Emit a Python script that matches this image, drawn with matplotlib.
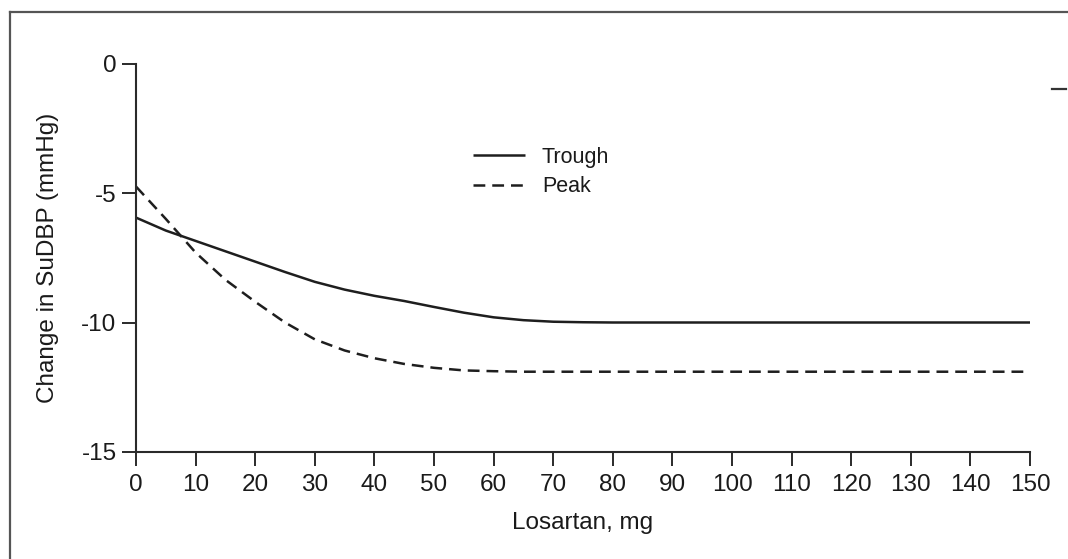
import matplotlib
matplotlib.use("Agg")
import matplotlib.pyplot as plt
from matplotlib.lines import Line2D

plt.rcParams['font.family'] = ['Liberation Sans', 'DejaVu Sans']
plt.rcParams['lines.scale_dashes'] = False

dose = [0, 5, 10, 15, 20, 25, 30, 35, 40, 45, 50, 55, 60, 65, 70, 75, 80,
        90, 100, 110, 120, 130, 140, 150]
trough = [-5.95, -6.45, -6.85, -7.25, -7.65, -8.05, -8.43, -8.73, -8.97, -9.17,
          -9.4, -9.62, -9.8, -9.91, -9.97, -9.99, -10.0,
          -10.0, -10.0, -10.0, -10.0, -10.0, -10.0, -10.0]
peak = [-4.75, -6.0, -7.3, -8.35, -9.2, -10.0, -10.65, -11.08, -11.38, -11.6,
        -11.75, -11.85, -11.88, -11.9, -11.9, -11.9, -11.9,
        -11.9, -11.9, -11.9, -11.9, -11.9, -11.9, -11.9]
xticks = list(range(0, 151, 10))
yticks = [0, -5, -10, -15]

W, H = 1068, 559
fig = plt.figure(figsize=(W / 100, H / 100), dpi=100)
ax = fig.add_axes([136 / W, 1 - 452 / H, 894 / W, 388.5 / H])

lc = '#1e1e1e'
ax.plot(dose, trough, color=lc, lw=1.8, label='Trough', solid_capstyle='butt')
ax.plot(dose, peak, color=lc, lw=1.8, linestyle=(0, (8.5, 5)), label='Peak')

ax.set_xlim(0, 150)
ax.set_ylim(-15, 0)
ax.set_xticks(xticks)
ax.set_xticklabels([str(t) for t in xticks])
ax.set_yticks(yticks)
ax.set_yticklabels([str(t) for t in yticks])
for s in ['top', 'right']:
    ax.spines[s].set_visible(False)
for s in ['left', 'bottom']:
    ax.spines[s].set_color('#2a2a2a')
    ax.spines[s].set_linewidth(1.5)
ax.tick_params(axis='both', direction='out', length=10, width=1.4,
               color='#2a2a2a', labelsize=17.5, labelcolor='#1a1a1a')
ax.tick_params(axis='y', pad=4)
ax.tick_params(axis='x', pad=6)

ax.set_xlabel('Losartan, mg', fontsize=17.5, color='#1a1a1a', labelpad=11)
ax.set_ylabel('Change in SuDBP (mmHg)', fontsize=17.5, color='#1a1a1a', labelpad=16)

leg = ax.legend(loc='upper left', bbox_to_anchor=((473 - 136) / 894, (64 - 147) / 388.5 + 1),
                frameon=False, fontsize=15.5, handlelength=2.4, handletextpad=0.8,
                labelspacing=0.4, borderpad=0, borderaxespad=0)
for t in leg.get_texts():
    t.set_color('#1a1a1a')

# outer scan frame (left and top edges)
fig.add_artist(Line2D([10 / W, 10 / W], [0, 1 - 12 / H], color='#555555', lw=1.6))
fig.add_artist(Line2D([10 / W, 1], [1 - 12 / H, 1 - 12 / H], color='#555555', lw=1.6))
# small mark at right edge
fig.add_artist(Line2D([1052 / W, 1066 / W], [1 - 89 / H, 1 - 89 / H], color='#333333', lw=1.6))

fig.savefig('out.png', dpi=100, facecolor='white')
